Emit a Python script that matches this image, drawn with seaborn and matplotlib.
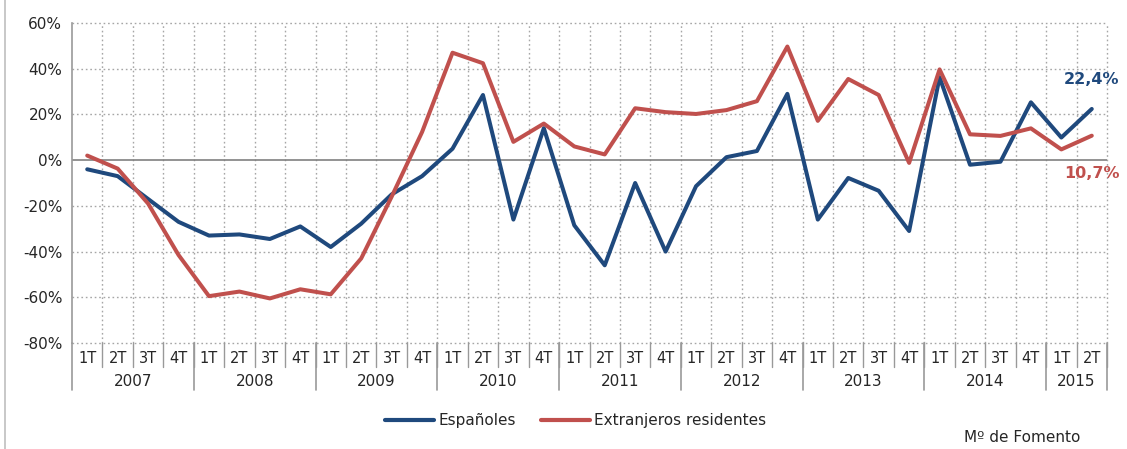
import matplotlib.pyplot as plt
import matplotlib.lines as mlines
import matplotlib.ticker as ticker
import numpy as np
import pandas as pd
import seaborn as sns

# quarters 2007 1T .. 2015 2T
years = ['2007', '2008', '2009', '2010', '2011', '2012', '2013', '2014', '2015']
quarters_per_year = [4, 4, 4, 4, 4, 4, 4, 4, 2]
quarter_names = ['1T', '2T', '3T', '4T']

espanoles = [-4, -7, -17, -27, -33, -32.5, -34.5, -29, -38, -27.8,
             -15, -7, 5, 28.5, -26, 14, -28.5, -46, -10, -40,
             -11.4, 1.3, 4, 29, -26, -7.8, -13.4, -31, 36.3, -2,
             -0.7, 25.3, 9.9, 22.4]
extranjeros = [2, -3.7, -19, -41.5, -59.5, -57.5, -60.5, -56.5, -58.7, -43,
               -16, 12.3, 47, 42.4, 8, 16, 6, 2.5, 22.7, 21,
               20.2, 21.9, 25.8, 49.7, 17.2, 35.5, 28.5, -1.2, 39.7, 11.3,
               10.6, 13.9, 4.7, 10.7]

BLUE = '#1F497D'
RED = '#C0504D'
GRID = '#A6A6A6'
SEP = '#999999'
TXT = '#262626'

sns.set_style('white')
plt.rcParams['font.family'] = ['DejaVu Sans']

qlabels = []
for y, n in zip(years, quarters_per_year):
    qlabels += quarter_names[:n]
idx = np.arange(len(qlabels))

df = pd.DataFrame({
    'i': np.concatenate([idx, idx]),
    'v': espanoles + extranjeros,
    'serie': ['Españoles'] * len(idx) + ['Extranjeros residentes'] * len(idx),
})

fig = plt.figure(figsize=(11.27, 4.49), dpi=100)
ax = fig.add_axes([72 / 1127, 1 - 343 / 449, (1107 - 72) / 1127, 320 / 449])

sns.lineplot(data=df, x='i', y='v', hue='serie',
             palette={'Españoles': BLUE, 'Extranjeros residentes': RED},
             linewidth=2.9, ax=ax, legend=False)

ax.set_xlim(-0.5, len(idx) - 0.5)
ax.set_ylim(-80, 60)
ax.set_xlabel('')
ax.set_ylabel('')
ax.grid(False)

# horizontal grid
for yv in range(-80, 61, 20):
    if yv == 0:
        ax.axhline(0, color='#808080', lw=1.2, zorder=1)
    else:
        ax.axhline(yv, color=GRID, lw=1, ls=(0, (1.2, 2)), zorder=0, clip_on=False)

for s in ['top', 'right', 'bottom']:
    ax.spines[s].set_visible(False)
ax.spines['left'].set_color(SEP)
ax.spines['left'].set_linewidth(1.2)

ax.yaxis.set_major_locator(ticker.MultipleLocator(20))
ax.yaxis.set_major_formatter(ticker.FuncFormatter(lambda v, p: f'{v:.0f}%'))
ax.tick_params(axis='y', length=4, width=1, color=SEP, labelsize=11,
               labelcolor=TXT, pad=3)

# quarter labels
ax.set_xticks(idx)
ax.set_xticklabels(qlabels)
ax.tick_params(axis='x', which='major', length=0, pad=6, labelsize=10.5,
               labelcolor=TXT)

trans = ax.get_xaxis_transform()
qbot = -24 / 320
ybot = -47 / 320

# vertical dotted grid + quarter separators at each category boundary
for b in np.arange(0.5, len(idx), 1):
    ax.plot([b, b], [0, 1], transform=trans, color=GRID, lw=1,
            ls=(0, (1.2, 2)), zorder=0, clip_on=False)
    ax.plot([b, b], [0, qbot], transform=trans, color=SEP, lw=1,
            clip_on=False)

# year labels and separators
start = 0
bounds = [-0.5]
for y, n in zip(years, quarters_per_year):
    ax.text(start + (n - 1) / 2, -38 / 320, y, transform=trans, ha='center',
            va='center', fontsize=11, color=TXT)
    start += n
    bounds.append(start - 0.5)
for b in bounds:
    ax.plot([b, b], [0, ybot], transform=trans, color=SEP, lw=1.2,
            clip_on=False)

# end labels
ax.annotate('22,4%', xy=(idx[-1], espanoles[-1]), xytext=(0, 21),
            textcoords='offset points', ha='center', va='center',
            color=BLUE, fontsize=11.5, fontweight='bold')
ax.annotate('10,7%', xy=(idx[-1], extranjeros[-1]), xytext=(0, -27),
            textcoords='offset points', ha='center', va='center',
            color=RED, fontsize=11.5, fontweight='bold')

# legend
handles = [mlines.Line2D([], [], color=BLUE, lw=3),
           mlines.Line2D([], [], color=RED, lw=3)]
fig.legend(handles, ['Españoles', 'Extranjeros residentes'], loc='center',
           bbox_to_anchor=(0.511, 1 - 421 / 449), ncol=2, frameon=False,
           fontsize=11, handlelength=3.2, handletextpad=0.3, columnspacing=1.6)

fig.text(1080 / 1127, 1 - 438 / 449, 'Mº de Fomento', ha='right', va='center',
         fontsize=11, color=TXT)

fig.add_artist(mlines.Line2D([5 / 1127, 5 / 1127], [0, 1], color='#BFBFBF', lw=1.2))

fig.savefig('out.png', dpi=100)
